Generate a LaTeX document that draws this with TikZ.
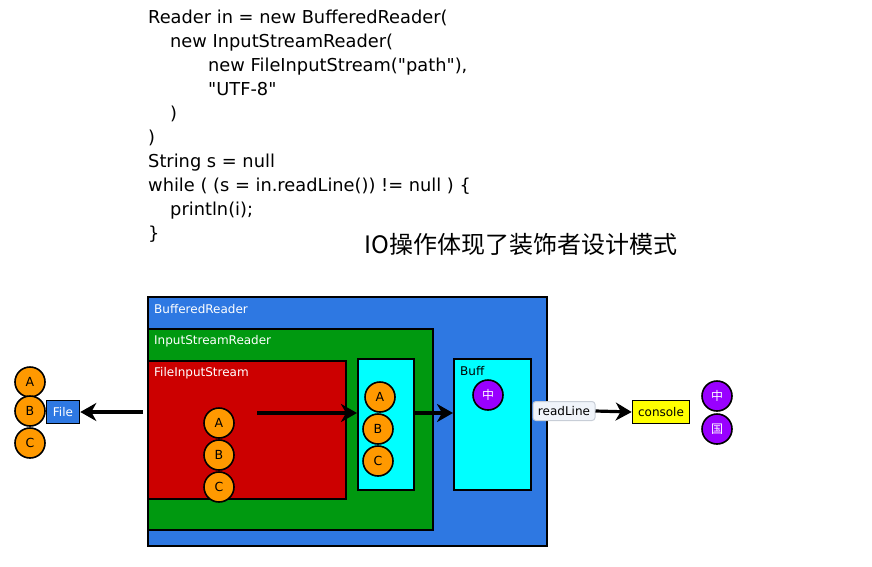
\documentclass[tikz,border=0pt]{standalone}
\usepackage{fontspec}
\setmainfont{DejaVu Sans}[Ligatures=TeXOff]
\newfontfamily\cjk{Noto Sans CJK SC}
\usetikzlibrary{arrows.meta}
\definecolor{brblue}{RGB}{46,120,226}
\definecolor{isrgreen}{RGB}{0,153,16}
\definecolor{fisred}{RGB}{204,0,0}
\definecolor{bufcyan}{RGB}{0,255,255}
\definecolor{ballorange}{RGB}{255,153,0}
\definecolor{ballpurple}{RGB}{153,0,255}
\definecolor{conyellow}{RGB}{255,255,0}
\definecolor{rlfill}{RGB}{240,244,250}
\definecolor{rlborder}{RGB}{200,206,215}
\begin{document}
\begin{tikzpicture}[x=1pt,y=-1pt,
  codeline/.style={anchor=base west, inner sep=0pt, font=\fontsize{17.8}{20}\selectfont},
  box/.style={draw=black, line width=2pt, anchor=north west, inner sep=0pt},
  lbl/.style={anchor=west, inner sep=0pt, text=white, font=\fontsize{12}{14}\selectfont},
  ball/.style={circle, draw=black, line width=1.6pt, fill=ballorange, minimum size=30pt, inner sep=0pt, font=\fontsize{12.5}{14}\selectfont},
  pball/.style={ball, fill=ballpurple, text=white, font=\cjk\fontsize{12}{14}\selectfont},
  arr/.style={draw=black, line width=3.2pt, -{Stealth[length=16pt,width=18pt,inset=5pt]}},
  ]
\useasboundingbox (0,0) rectangle (872,566);
% code
\node[codeline] (c1) at (148,23) {Reader in = new BufferedReader(};
\node[codeline] (c2) at (170,47) {new InputStreamReader(};
\node[codeline] (c3) at (208,71) {new FileInputStream("path"),};
\node[codeline] (c4) at (208,95) {"UTF-8"};
\node[codeline] (c5) at (170,119) {)};
\node[codeline] (c6) at (148,143) {)};
\node[codeline] (c7) at (148,167) {String s = null};
\node[codeline] (c8) at (148,191) {while ( (s = in.readLine()) != null ) \{};
\node[codeline] (c9) at (170,215) {println(i);};
\node[codeline] (c10) at (148,239) {\}};
% title
\node[anchor=west, inner sep=0pt, font=\cjk\fontsize{24}{28}\selectfont] (title) at (364,244) {IO操作体现了装饰者设计模式};
% boxes
\node[box, fill=brblue, minimum width=399pt, minimum height=249pt] (br) at (147,296) {};
\node[lbl] (brl) at (154,309) {BufferedReader};
\node[box, fill=isrgreen, minimum width=285pt, minimum height=201pt] (isr) at (147,328) {};
\node[lbl] (isrl) at (154,341) {InputStreamReader};
\node[box, fill=fisred, minimum width=198pt, minimum height=138pt] (fis) at (147,360) {};
\node[lbl] (fisl) at (154,373) {FileInputStream};
\node[box, fill=bufcyan, minimum width=56pt, minimum height=131pt] (cv) at (357,358) {};
\node[box, fill=bufcyan, minimum width=77pt, minimum height=131pt] (buff) at (453,358) {};
\node[lbl, text=black] (buffl) at (460,371) {Buff};
% balls
\node[ball] (fa) at (219,423) {A};
\node[ball] (fb) at (219,455) {B};
\node[ball] (fc) at (219,487) {C};
\node[ball] (ca) at (380,397) {A};
\node[ball] (cb) at (378,429) {B};
\node[ball] (cc) at (378,461) {C};
\node[pball] (bz) at (488,395) {中};
\node[ball] (la) at (30,382) {A};
\node[ball] (lb) at (30,411) {B};
\node[ball] (lc) at (30,443) {C};
\node[pball] (oz) at (717,396) {中};
\node[pball] (og) at (717,429) {国};
% file, readLine, console
\node[draw=black, line width=1.6pt, fill=brblue, text=white, minimum width=33pt, minimum height=23pt, inner sep=0pt, font=\fontsize{12}{14}\selectfont] (file) at (63,412) {File};
\node[draw=rlborder, line width=1pt, fill=rlfill, rounded corners=3pt, minimum width=62pt, minimum height=19pt, inner sep=0pt, font=\fontsize{12}{14}\selectfont] (rl) at (564,411) {readLine};
\node[draw=black, line width=1.6pt, fill=conyellow, minimum width=57pt, minimum height=23pt, inner sep=0pt, font=\fontsize{12}{14}\selectfont] (con) at (661,412) {console};
% arrows
\coordinate (s1) at (257,413);
\coordinate (s3) at (143,412);
\draw[arr] (s1) -- (s1 -| cv.west);
\draw[arr] (cv.east |- s1) -- (s1 -| buff.west);
\draw[arr] (s3) -- (file.east);
\draw[arr] (rl.east) -- (con.west);
\end{tikzpicture}
\end{document}
